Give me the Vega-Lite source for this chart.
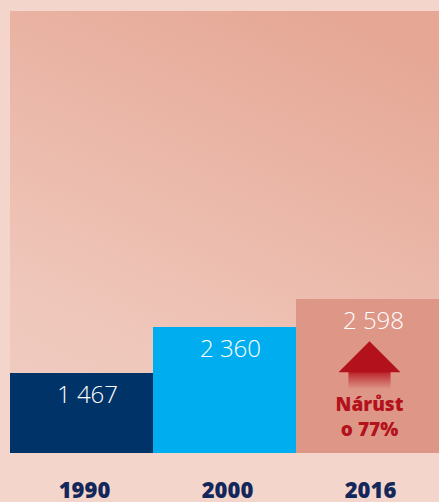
{
  "$schema": "https://vega.github.io/schema/vega-lite/v6.json",
  "width": 429,
  "height": 442,
  "autosize": {"type": "none"},
  "padding": {"left": 10, "top": 11, "right": 0, "bottom": 49},
  "background": "#f3d5cb",
  "config": {"view": {"stroke": null}},
  "data": {"values": [
    {"year": "1990", "value": 1467, "label": "1 467"},
    {"year": "2000", "value": 2360, "label": "2 360"},
    {"year": "2016", "value": 2598, "label": "2 598"}
  ]},
  "layer": [
    {
      "data": {"values": [{}]},
      "mark": {
        "type": "rect",
        "color": {
          "gradient": "linear",
          "x1": 0.75, "y1": 0, "x2": 0.3, "y2": 1,
          "stops": [
            {"offset": 0, "color": "#e6a795"},
            {"offset": 0.45, "color": "#ebb9aa"},
            {"offset": 0.8, "color": "#efc7bb"},
            {"offset": 1, "color": "#f0cbc0"}
          ]
        }
      },
      "encoding": {}
    },
    {
      "mark": {"type": "bar"},
      "encoding": {
        "x": {
          "field": "year", "type": "ordinal",
          "scale": {"paddingInner": 0, "paddingOuter": 0},
          "axis": {
            "title": null, "labelAngle": 0, "domain": false, "ticks": false, "tickSize": 0,
            "labelFont": "Open Sans", "labelFontWeight": 800, "labelFontSize": 22,
            "labelColor": "#14275a", "labelPadding": 27, "labelOffset": 3
          }
        },
        "y": {
          "field": "value", "type": "quantitative",
          "scale": {"domain": [0, 1467, 2360, 2598, 7000], "range": [442, 362, 316, 288, 0], "nice": false, "zero": false},
          "axis": null
        },
        "color": {
          "field": "year", "type": "nominal",
          "scale": {"domain": ["1990", "2000", "2016"], "range": ["#003468", "#00aeef", "#de9787"]},
          "legend": null
        }
      }
    },
    {
      "mark": {"type": "text", "color": "#ffffff", "font": "Open Sans", "fontWeight": 300, "fontSize": 24, "baseline": "middle", "dy": 23, "dx": 6},
      "encoding": {
        "x": {"field": "year", "type": "ordinal"},
        "y": {"field": "value", "type": "quantitative"},
        "text": {"field": "label"}
      }
    },
    {
      "data": {"values": [{"year": "2016", "value": 2598, "note": "Nárůst\no 77%"}]},
      "layer": [
        {
          "mark": {
            "type": "point",
            "shape": "M0,-0.8 L1,0.2 L0.68,0.2 L0.68,0.75 L-0.68,0.75 L-0.68,0.2 L-1,0.2 Z",
            "size": 3844,
            "filled": true,
            "opacity": 1,
            "strokeWidth": 0,
            "yOffset": 67,
            "xOffset": 2,
            "color": {
              "gradient": "linear",
              "x1": 0, "y1": 0, "x2": 0, "y2": 1,
              "stops": [
                {"offset": 0, "color": "#b3121c"},
                {"offset": 0.645, "color": "#b3121c"},
                {"offset": 0.66, "color": "#bd2a30"},
                {"offset": 1, "color": "#de9787"}
              ]
            }
          },
          "encoding": {
            "x": {"field": "year", "type": "ordinal"},
            "y": {"field": "value", "type": "quantitative"}
          }
        },
        {
          "mark": {"type": "text", "color": "#b3121c", "font": "Open Sans", "fontWeight": 800, "fontSize": 19, "baseline": "top", "dy": 97, "dx": 2, "lineBreak": "\n", "lineHeight": 25},
          "encoding": {
            "x": {"field": "year", "type": "ordinal"},
            "y": {"field": "value", "type": "quantitative"},
            "text": {"field": "note"}
          }
        }
      ]
    }
  ]
}
